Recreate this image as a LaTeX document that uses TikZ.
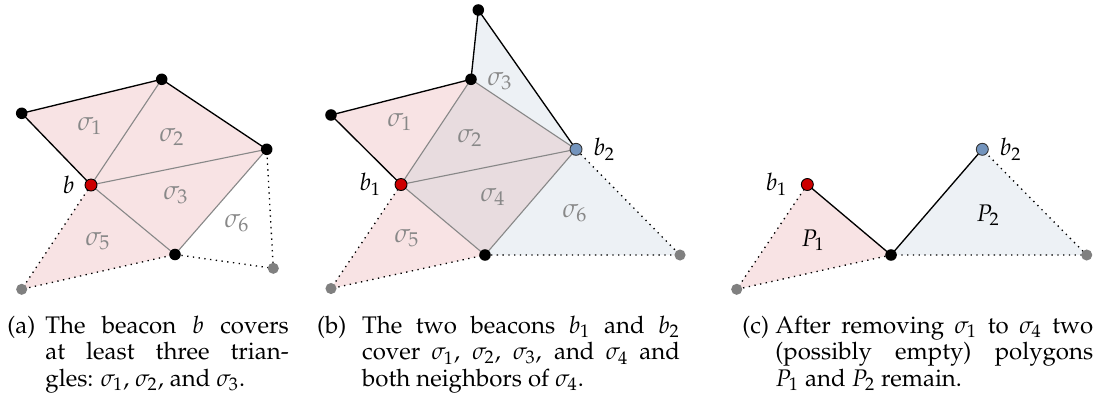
\documentclass[tikz,border=0pt]{standalone}
\usepackage[T1]{fontenc}
\usepackage{amsmath}
\usepackage{mathpazo}
\usepackage{xcolor}
\usepackage{tikz}
\usetikzlibrary{positioning,backgrounds}
\definecolor{coverred}{HTML}{F8E3E4}
\definecolor{coverblue}{HTML}{EDF1F5}
\definecolor{coverboth}{HTML}{E8DCDF}
\definecolor{beaconred}{HTML}{CC0000}
\definecolor{beaconblue}{HTML}{7394BD}
\definecolor{labelgray}{HTML}{888888}

\begin{document}
\begin{tikzpicture}[x=0.45pt, y=-0.45pt,
    every node/.style={font=\fontsize{10.8}{12}\selectfont},
    vertex/.style={circle, fill=black, inner sep=0pt, minimum size=5.2pt},
    ghost/.style={circle, fill=black!50, inner sep=0pt, minimum size=5pt},
    beacon/.style={circle, draw=black, line width=0.4pt, inner sep=0pt, minimum size=5.4pt},
    rim/.style={black, line width=0.6pt},
    diag/.style={labelgray, line width=0.5pt},
    gap/.style={black, dotted, line width=0.6pt},
    tri/.style={labelgray, font=\large},
    caplabel/.style={anchor=base west, inner sep=0pt},
    captext/.style={anchor=base west, inner sep=0pt, align=justify}]
  \useasboundingbox (0,0) rectangle (1114,410);

  % (a) one beacon
  \node[vertex] (aL) at (21.7,113.3) {};
  \node[vertex] (aT) at (161.7,79.3) {};
  \node[vertex] (aR) at (266.7,149.3) {};
  \node[vertex] (aD) at (175,254.5) {};
  \node[beacon, fill=beaconred] (ab) at (91,185) {};
  \node[ghost] (aG1) at (21.7,289.3) {};
  \node[ghost] (aG2) at (273.3,268.3) {};
  \node[left=1pt of ab] (ablab) {$b$};
  \node[tri] (as1) at (90,126) {$\sigma_1$};
  \node[tri] (as2) at (172,137) {$\sigma_2$};
  \node[tri] (as3) at (176,195) {$\sigma_3$};
  \node[tri] (as5) at (98,241) {$\sigma_5$};
  \node[tri] (as6) at (237,223) {$\sigma_6$};
  \begin{scope}[on background layer]
    \fill[coverred] (aL.center) -- (aT.center) -- (aR.center) -- (aD.center)
      -- (aG1.center) -- (ab.center) -- cycle;
    \draw[rim] (aL.center) -- (aT.center) -- (aR.center);
    \draw[rim] (aL.center) -- (ab.center);
    \draw[diag] (aT.center) -- (ab.center) -- (aR.center) -- (aD.center) -- (ab.center);
    \draw[gap] (ab.center) -- (aG1.center) -- (aD.center) -- (aG2.center) -- (aR.center);
  \end{scope}

  % (b) two beacons
  \node[vertex] (bL) at (331,115) {};
  \node[vertex] (bU) at (471,79.3) {};
  \node[vertex] (bT) at (478.3,10) {};
  \node[vertex] (bD) at (485,255) {};
  \node[beacon, fill=beaconred] (bb1) at (401,184.5) {};
  \node[beacon, fill=beaconblue, draw=black!80] (bb2) at (576,149.3) {};
  \node[ghost] (bG1) at (331,288.5) {};
  \node[ghost] (bG2) at (680,255) {};
  \node[left=2.5pt of bb1] (bb1lab) {$b_1$};
  \node[right=1.5pt of bb2] (bb2lab) {$b_2$};
  \node[tri] (bs1) at (400,122) {$\sigma_1$};
  \node[tri] (bs2) at (470,138) {$\sigma_2$};
  \node[tri] (bs3) at (500,81) {$\sigma_3$};
  \node[tri] (bs4) at (493,197) {$\sigma_4$};
  \node[tri] (bs5) at (407,238) {$\sigma_5$};
  \node[tri] (bs6) at (575,213) {$\sigma_6$};
  \begin{scope}[on background layer]
    \fill[coverred] (bL.center) -- (bU.center) -- (bb1.center) -- cycle;
    \fill[coverred] (bb1.center) -- (bD.center) -- (bG1.center) -- cycle;
    \fill[coverblue] (bT.center) -- (bb2.center) -- (bU.center) -- cycle;
    \fill[coverblue] (bb2.center) -- (bG2.center) -- (bD.center) -- cycle;
    \fill[coverboth] (bU.center) -- (bb2.center) -- (bD.center) -- (bb1.center) -- cycle;
    \draw[rim] (bL.center) -- (bU.center) -- (bT.center) -- (bb2.center);
    \draw[rim] (bL.center) -- (bb1.center);
    \draw[diag] (bb1.center) -- (bU.center) -- (bb2.center) -- (bb1.center) -- (bD.center) -- (bb2.center);
    \draw[gap] (bb1.center) -- (bG1.center) -- (bD.center) -- (bG2.center) -- (bb2.center);
  \end{scope}

  % (c) what is left
  \node[vertex] (cD) at (891,255) {};
  \node[beacon, fill=beaconred] (cb1) at (807.3,184.5) {};
  \node[beacon, fill=beaconblue, draw=black!80] (cb2) at (982.3,149.3) {};
  \node[ghost] (cG1) at (736.7,289.3) {};
  \node[ghost] (cG2) at (1086.7,255) {};
  \node[left=2.5pt of cb1] (cb1lab) {$b_1$};
  \node[right=1.5pt of cb2] (cb2lab) {$b_2$};
  \node (cp1) at (813,240) {$P_1$};
  \node (cp2) at (988,215) {$P_2$};
  \begin{scope}[on background layer]
    \fill[coverred] (cb1.center) -- (cD.center) -- (cG1.center) -- cycle;
    \fill[coverblue] (cD.center) -- (cb2.center) -- (cG2.center) -- cycle;
    \draw[rim] (cb1.center) -- (cD.center) -- (cb2.center);
    \draw[gap] (cb1.center) -- (cG1.center) -- (cD.center) -- (cG2.center) -- (cb2.center);
  \end{scope}

  % captions
  \node[caplabel] (capa) at (7,333) {(a)};
  \node[captext, text width=109.5pt] (texta) at (45,333)
    {The beacon $b$ covers\linebreak at least three trian-\linebreak gles: $\sigma_1$, $\sigma_2$, and $\sigma_3$.};
  \node[caplabel] (capb) at (316.7,333) {(b)};
  \node[captext, text width=143pt] (textb) at (361.7,333)
    {The two beacons $b_1$ and $b_2$\linebreak cover $\sigma_1$, $\sigma_2$, $\sigma_3$, and $\sigma_4$ and\linebreak both neighbors of $\sigma_4$.};
  \node[caplabel] (capc) at (742,333) {(c)};
  \node[captext, text width=143pt] (textc) at (775,333)
    {After removing $\sigma_1$ to $\sigma_4$ two\linebreak (possibly empty) polygons\linebreak $P_1$ and $P_2$ remain.};
\end{tikzpicture}
\end{document}
